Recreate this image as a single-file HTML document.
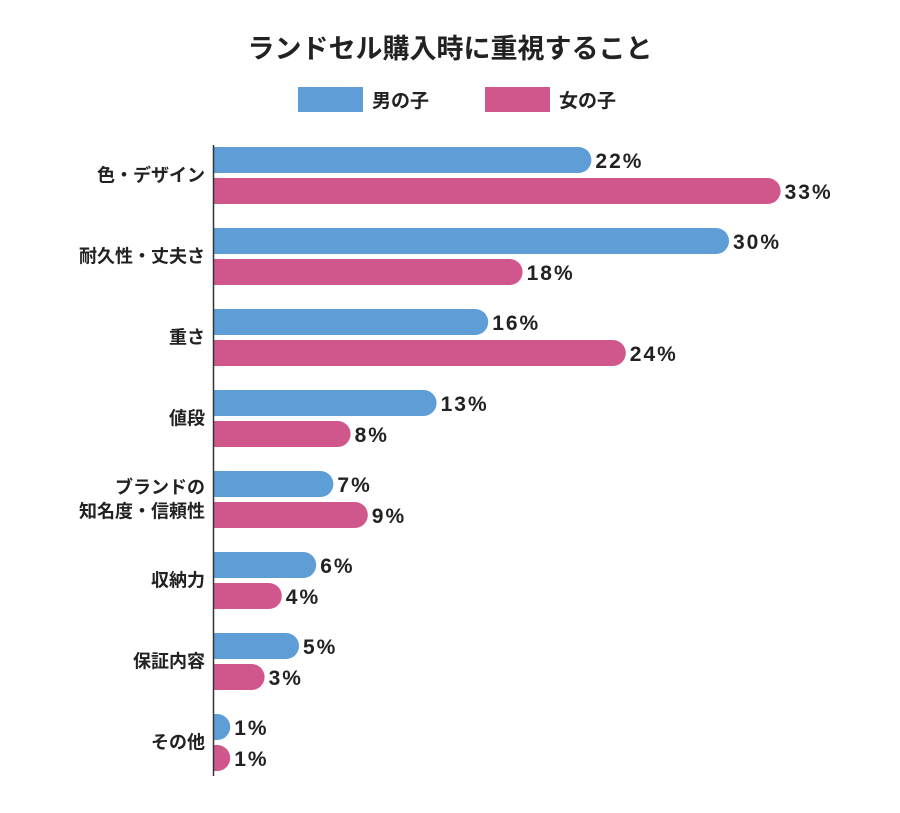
<!DOCTYPE html>
<html><head><meta charset="utf-8">
<style>
body{margin:0;background:#fff;}
svg{display:block;font-family:"Liberation Sans","Noto Sans CJK JP",sans-serif;}
</style></head>
<body>
<svg id="chart" width="900" height="813" viewBox="0 0 900 813">
<text x="450" y="58" text-anchor="middle" font-size="27" font-weight="bold" fill="#222">ランドセル購入時に重視すること</text>
<g>
<rect x="298" y="87" width="65" height="25" fill="#5f9dd6"/>
<text x="372" y="107" font-size="19" font-weight="bold" fill="#222">男の子</text>
<rect x="485" y="87" width="65" height="25" fill="#d0578c"/>
<text x="559" y="107" font-size="19" font-weight="bold" fill="#222">女の子</text>
</g>
<g id="bars"></g>
<line x1="213.5" y1="145" x2="213.5" y2="776" stroke="#333" stroke-width="1.5"/>
</svg>
<script>
const categories = [["色・デザイン"],["耐久性・丈夫さ"],["重さ"],["値段"],["ブランドの","知名度・信頼性"],["収納力"],["保証内容"],["その他"]];
const boys = [22,30,16,13,7,6,5,1];
const girls = [33,18,24,8,9,4,3,1];
const x0 = 213, pxPer = 17.2, top0 = 147, groupH = 81, barH = 26, gap = 5;
const x = v => x0 + v * pxPer;
const g = document.getElementById('bars');
const NS = 'http://www.w3.org/2000/svg';
function bar(v, y, color, name){
  const w = x(v) - x0, r = Math.min(13, w);
  const p = document.createElementNS(NS,'path');
  p.setAttribute('d', `M${x0},${y} H${x0+w-r} A${r},${barH/2} 0 0 1 ${x0+w-r},${y+barH} H${x0} Z`);
  p.setAttribute('fill', color);
  
  
  g.appendChild(p);
  const t = document.createElementNS(NS,'text');
  t.setAttribute('x', x(v) + 4);
  t.setAttribute('y', y + 21);
  t.setAttribute('font-size', '21');
  t.setAttribute('font-weight', 'bold');
  t.setAttribute('letter-spacing', '2');
  t.setAttribute('fill', '#222');
  t.textContent = v + '%';
  
  
  g.appendChild(t);
}
categories.forEach((c, i) => {
  const y = top0 + i * groupH;
  bar(boys[i], y, '#5f9dd6', 'bar-boys-' + i);
  bar(girls[i], y + barH + gap, '#d0578c', 'bar-girls-' + i);
  const t = document.createElementNS(NS,'text');
  t.setAttribute('text-anchor', 'end');
  t.setAttribute('font-size', '18');
  t.setAttribute('font-weight', 'bold');
  t.setAttribute('fill', '#222');
  
  
  const mid = y + barH + gap / 2;
  const startY = mid + 6 - (c.length - 1) * 12;
  c.forEach((line, j) => {
    const s = document.createElementNS(NS,'tspan');
    s.setAttribute('x', 205);
    s.setAttribute('y', startY + j * 24);
    s.textContent = line;
    t.appendChild(s);
  });
  g.appendChild(t);
});
</script>
</body></html>
